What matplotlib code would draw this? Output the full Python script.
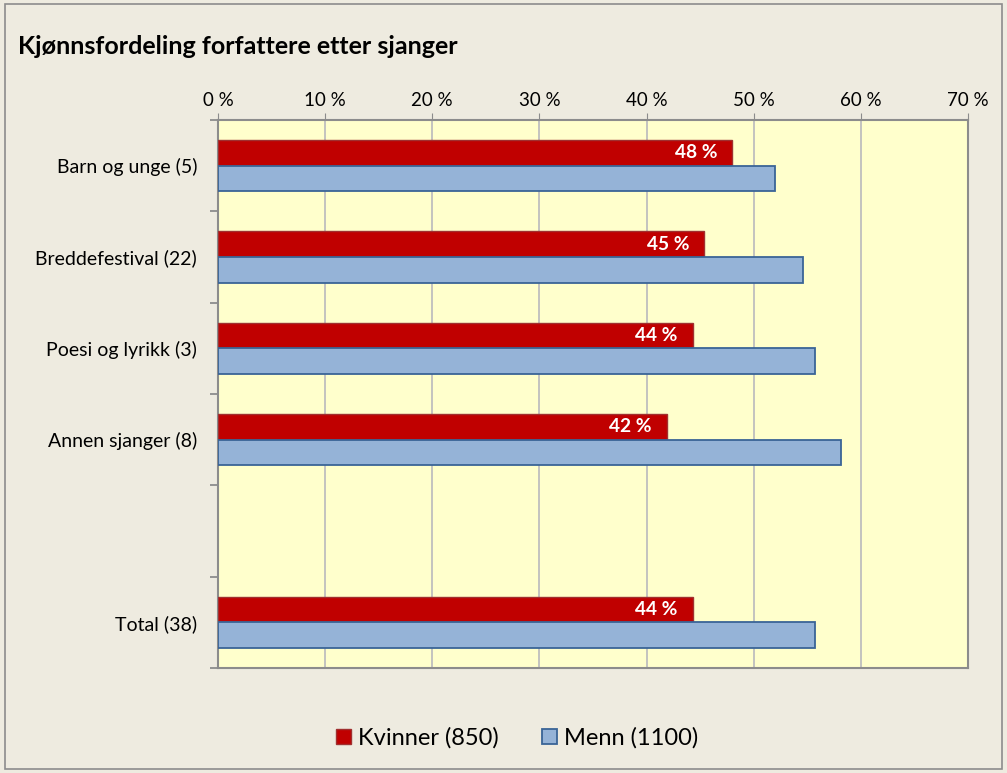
import numpy as np
import matplotlib
matplotlib.use("Agg")
import matplotlib.pyplot as plt
from matplotlib.patches import Rectangle

# ---------- Data ----------
categories = ["Barn og unge (5)", "Breddefestival (22)", "Poesi og lyrikk (3)",
              "Annen sjanger (8)", "", "Total (38)"]
kvinner = [48.0, 45.4, 44.3, 41.9, None, 44.3]
menn = [52.0, 54.6, 55.7, 58.1, None, 55.7]
kvinner_labels = ["48 %", "45 %", "44 %", "42 %", "", "44 %"]
xticks = [0, 10, 20, 30, 40, 50, 60, 70]

plt.rcParams["font.family"] = ["Lato", "DejaVu Sans"]

BG = "#EEEBE0"
PLOT_BG = "#FFFFCC"
RED = "#C00000"
RED_EDGE = "#A03030"
BLUE = "#95B3D7"
BLUE_EDGE = "#3A6496"

fig = plt.figure(figsize=(10.07, 7.73), dpi=100, facecolor=BG)
fig.patches.append(Rectangle((0.005, 0.005), 0.99, 0.99, transform=fig.transFigure,
                             fill=False, edgecolor="#8C8C8C", lw=1.2))
ax = fig.add_axes([218 / 1007, 1 - 668 / 773, 750 / 1007, 548 / 773])
ax.set_facecolor(PLOT_BG)

y = np.arange(len(categories))
h = 0.28
mask = np.array([v is not None for v in kvinner])
kv = np.array([v if v is not None else 0 for v in kvinner])[mask]
me = np.array([v if v is not None else 0 for v in menn])[mask]
labs = np.array(kvinner_labels)[mask]
yk = y[mask] - h / 2
ym = y[mask] + h / 2
ax.barh(yk, kv, height=h, color=RED, edgecolor=RED_EDGE, lw=1, zorder=3,
        label="Kvinner (850)")
ax.barh(ym, me, height=h, color=BLUE, edgecolor=BLUE_EDGE, lw=1.3, zorder=3,
        label="Menn (1100)")

# data labels inside the red bars
for yi, v, lab in zip(yk, kv, labs):
    ax.text(v - 1.4, yi, lab, ha="right", va="center", color="white",
            fontsize=13.8, fontweight="bold", zorder=4)

ax.set_xlim(0, 70)
ax.set_ylim(len(categories) - 0.5, -0.5)
ax.xaxis.tick_top()
ax.set_xticks(xticks)
ax.set_xticklabels([f"{t} %" for t in xticks], fontsize=13.5)
ax.tick_params(axis="x", length=5, color="#8C8C8C", pad=3)
ax.grid(axis="x", color="#BEBEBE", lw=1.3, zorder=0)

ax.set_yticks(y)
ax.set_yticklabels(categories, fontsize=14)
ax.set_yticks(np.arange(len(categories) + 1) - 0.5, minor=True)
ax.tick_params(axis="y", which="major", length=0, pad=15)
ax.tick_params(axis="y", which="minor", length=6, color="#8C8C8C", width=1.3)

for side in ["left", "bottom", "top", "right"]:
    ax.spines[side].set_color("#8C8C8C")
    ax.spines[side].set_linewidth(1.5)

fig.text(18 / 1007, 1 - 47 / 773, "Kjønnsfordeling forfattere etter sjanger",
         fontsize=18, fontweight="bold", va="center", ha="left")

fig.legend(loc="center", bbox_to_anchor=(517 / 1007, 1 - 738 / 773), ncol=2, frameon=False,
           fontsize=17, handlelength=0.65, handleheight=0.65, handletextpad=0.3,
           columnspacing=1.8)

plt.savefig("out.png", dpi=100, facecolor=BG)
